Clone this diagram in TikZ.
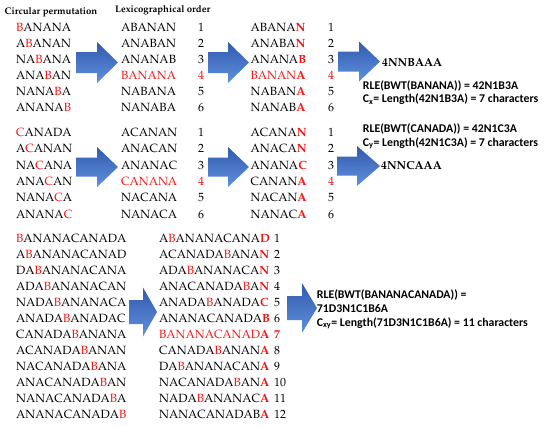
\documentclass[tikz,border=0pt]{standalone}
\usepackage[T1]{fontenc}
\usepackage{fontspec}
\newfontfamily\calfont{Carlito}
\newcommand\pal{\fontencoding{T1}\fontfamily{ppl}\fontseries{m}\fontsize{11.9}{14}\selectfont}
\newcommand\palbold{\fontencoding{T1}\fontfamily{ppl}\bfseries\fontsize{11.6}{14}\selectfont}
\newcommand\palhead{\fontencoding{T1}\fontfamily{ppl}\bfseries\fontsize{9.6}{11}\selectfont}
\newcommand\rleft{\calfont\bfseries\fontsize{11.8}{14}\selectfont}
\definecolor{myred}{RGB}{245,20,20}
\definecolor{arrtop}{RGB}{50,90,175}
\definecolor{arrbot}{RGB}{95,145,220}
\newcommand\rd[1]{\textcolor{myred}{#1}}
\newcommand\rdb[1]{\textcolor{myred}{\bfseries #1}}
\tikzset{
  seq/.style={anchor=base west, inner sep=0pt, font=\pal},
  numc/.style={anchor=base, inner sep=0pt, font=\pal},
  numl/.style={anchor=base west, inner sep=0pt, font=\pal},
  head/.style={anchor=base west, inner sep=0pt, font=\palhead},
  code/.style={anchor=base west, inner sep=0pt, font=\palbold},
  rle/.style={anchor=base west, inner sep=0pt, font=\rleft},
  arrowshade/.style={top color=arrtop, bottom color=arrbot, draw=none}
}
% name, L, H, T, C, s, h
\newcommand\blockarrow[7]{%
  \path[arrowshade] (#2,#5-#6) -- (#3,#5-#6) -- (#3,#5-#7) -- (#4,#5)
    -- (#3,#5+#7) -- (#3,#5+#6) -- (#2,#5+#6) -- cycle;
  \coordinate (#1) at (#4,#5);}
\begin{document}
\begin{tikzpicture}[x=1pt,y=-1pt]
\useasboundingbox (0,0) rectangle (550,426);
\fill[white] (0,0) rectangle (550,426);

% headers
\node[head] (h1) at (4.5,14) {Circular permutation};
\node[head] (h2) at (115,12) {Lexicographical order};

% ---------- BANANA ----------
\foreach \t [count=\i] in {{\rd{B}ANANA},{A\rd{B}ANAN},{NA\rd{B}ANA},{ANA\rd{B}AN},{NANA\rd{B}A},{ANANA\rd{B}}}
  \node[seq] (ba\i) at (16,{31+16.1*(\i-1)}) {\t};
\foreach \t [count=\i] in {ABANAN,ANABAN,ANANAB,{\rd{BANANA}},NABANA,NANABA}
  \node[seq] (bb\i) at (121,{31+16.1*(\i-1)}) {\t};
\foreach \t [count=\i] in {1,2,3,{\rd{4}},5,6}
  \node[numc] (bn\i) at (201,{31+16.1*(\i-1)}) {\t};
\foreach \t [count=\i] in {{ABANA\rdb{N}},{ANABA\rdb{N}},{ANANA\rdb{B}},{\rd{BANAN}\rdb{A}},{NABAN\rdb{A}},{NANAB\rdb{A}}}
  \node[seq] (bc\i) at (250.5,{31+16.1*(\i-1)}) {\t};
\foreach \t [count=\i] in {1,2,3,{\rd{4}},5,6}
  \node[numc] (bm\i) at (331,{31+16.1*(\i-1)}) {\t};

\blockarrow{ar1}{76}{97}{118}{62.5}{10.5}{20.5}
\blockarrow{ar2}{208}{228}{249}{62.5}{10.5}{20.5}
\blockarrow{ar3}{338}{359}{380}{61.5}{10}{20}

\node[code] (bwt1) at (382,66) {4NNBAAA};
\node[rle] (rle1) at (362.7,89.3) {RLE(BWT(BANANA)) = 42N1B3A};
\node[rle] (len1) at (362.7,102.7) {C\textsubscript{x}= Length(42N1B3A) = 7 characters};

% ---------- CANADA ----------
\foreach \t [count=\i] in {{\rd{C}ANADA},{A\rd{C}ANAN},{NA\rd{C}ANA},{ANA\rd{C}AN},{NANA\rd{C}A},{ANANA\rd{C}}}
  \node[seq] (ca\i) at (16,{136.5+16.3*(\i-1)}) {\t};
\foreach \t [count=\i] in {ACANAN,ANACAN,ANANAC,{\rd{CANANA}},NACANA,NANACA}
  \node[seq] (cb\i) at (121,{136.5+16.3*(\i-1)}) {\t};
\foreach \t [count=\i] in {1,2,3,{\rd{4}},5,6}
  \node[numc] (cn\i) at (201,{136.5+16.3*(\i-1)}) {\t};
\foreach \t [count=\i] in {{ACANA\rdb{N}},{ANACA\rdb{N}},{ANANA\rdb{C}},{CANAN\rdb{A}},{NACAN\rdb{A}},{NANAC\rdb{A}}}
  \node[seq] (cc\i) at (250.5,{136.5+16.3*(\i-1)}) {\t};
\foreach \t [count=\i] in {1,2,3,{\rd{4}},5,6}
  \node[numc] (cm\i) at (331,{136.5+16.3*(\i-1)}) {\t};

\blockarrow{ar4}{76}{97}{118}{167}{9.5}{20}
\blockarrow{ar5}{208}{228}{249}{167}{9.5}{20}
\blockarrow{ar6}{337}{357}{380}{166}{9.5}{20}

\node[rle] (rle2) at (362.7,132.7) {RLE(BWT(CANADA)) = 42N1C3A};
\node[rle] (len2) at (362.7,146) {C\textsubscript{y}= Length(42N1C3A) = 7 characters};
\node[code] (bwt2) at (381,169) {4NNCAAA};

% ---------- BANANACANADA ----------
\foreach \t [count=\i] in {{\rd{B}ANANACANADA},{A\rd{B}ANANACANAD},{DA\rd{B}ANANACANA},{ADA\rd{B}ANANACAN},{NADA\rd{B}ANANACA},{ANADA\rd{B}ANADAC},{CANADA\rd{B}ANANA},{ACANADA\rd{B}ANAN},{NACANADA\rd{B}ANA},{ANACANADA\rd{B}AN},{NANACANADA\rd{B}A},{ANANACANADA\rd{B}}}
  \node[seq] (da\i) at (16,{242+16*(\i-1)}) {\t};
\foreach \t [count=\i] in {{A\rd{B}ANANACANA\rdb{D}},{ACANADA\rd{B}ANA\rdb{N}},{ADA\rd{B}ANANACA\rdb{N}},{ANACANADA\rd{B}A\rdb{N}},{ANADA\rd{B}ANADA\rdb{C}},{ANANACANADA\rdb{B}},{\rd{BANANACANAD}\rdb{A}},{CANADA\rd{B}ANAN\rdb{A}},{DA\rd{B}ANANACAN\rdb{A}},{NACANADA\rd{B}AN\rdb{A}},{NADA\rd{B}ANANAC\rdb{A}},{NANACANADAB\rdb{A}}}
  \node[seq] (db\i) at (159,{242+16*(\i-1)}) {\t};
\foreach \t [count=\i] in {1,2,3,4,5,6,{\rdb{7}},8,9,10,11,12}
  \node[numl] (dn\i) at (274,{242+16*(\i-1)}) {\t};

\blockarrow{ar7}{129}{143}{157}{312}{12}{24.5}
\blockarrow{ar8}{287}{302}{317}{308}{12}{25}

\node[rle] (rle3) at (316.7,298) {RLE(BWT(BANANACANADA)) =};
\node[rle] (rle3b) at (316.7,312.5) {71D3N1C1B6A};
\node[rle] (len3) at (316.7,326) {C\textsubscript{xy}= Length(71D3N1C1B6A) = 11 characters};
\end{tikzpicture}
\end{document}
